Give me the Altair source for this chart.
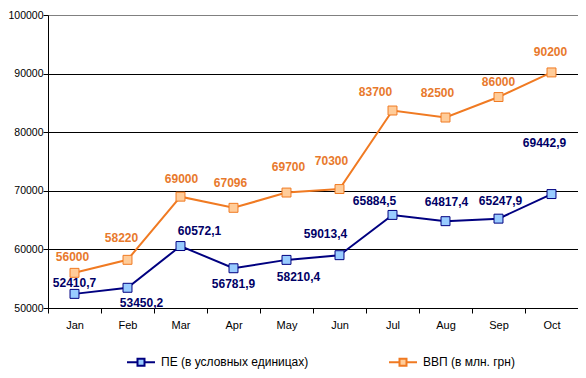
import altair as alt
import pandas as pd

months = ["Jan", "Feb", "Mar", "Apr", "May", "Jun", "Jul", "Aug", "Sep", "Oct"]
pe_values = [52410.7, 53450.2, 60572.1, 56781.9, 58210.4, 59013.4, 65884.5, 64817.4, 65247.9, 69442.9]
vvp_values = [56000, 58220, 69000, 67096, 69700, 70300, 83700, 82500, 86000, 90200]
series_names = ["ПЕ (в условных единицах)", "ВВП (в млн. грн)"]

# label placement offsets (pixels) relative to each marker, as in the original
pe_label_dx = [0, 14, 19, 0, 12, -14, -18, 1, 2, -7]
pe_label_dy = [-11, 15, -15, 16, 17, -21, -14, -19, -18, -51]
vvp_label_dx = [-2, -6, 1, -3, 2, -8, -17, -8, 0, -1]
vvp_label_dy = [-16, -22, -18, -25, -26, -28, -19, -25, -15, -20]

rows = []
for i, m in enumerate(months):
    rows.append({"month": m, "series": series_names[0], "value": pe_values[i],
                 "label": f"{pe_values[i]:.1f}".replace(".", ",")})
for i, m in enumerate(months):
    rows.append({"month": m, "series": series_names[1], "value": vvp_values[i],
                 "label": str(vvp_values[i])})
df = pd.DataFrame(rows)

FONT = "Liberation Sans"
line_colors = ["#000080", "#F07A22"]
fill_colors = ["#99CCFF", "#FFCC99"]
label_colors = ["#000066", "#E8792C"]

x_enc = alt.X("month:N", sort=months, title=None,
              scale=alt.Scale(paddingInner=0, paddingOuter=0),
              axis=alt.Axis(labelAngle=0, tickBand="extent", tickSize=5, tickColor="black",
                            domainColor="black", labelColor="black", labelFont=FONT,
                            labelFontSize=11, labelPadding=6, grid=False))
y_enc = alt.Y("value:Q", title=None,
              scale=alt.Scale(domain=[50000, 100000], nice=False, zero=False),
              axis=alt.Axis(values=[50000, 60000, 70000, 80000, 90000, 100000], format="d",
                            tickSize=5, tickColor="black", domainColor="black",
                            labelColor="black", labelFont=FONT, labelFontSize=10.5,
                            labelPadding=0, grid=True,
                            gridColor=alt.condition("datum.value >= 100000",
                                                    alt.value("#808080"), alt.value("black")),
                            gridOpacity=1, gridWidth=1))

stroke_scale = alt.Scale(domain=series_names, range=line_colors)
fill_scale = alt.Scale(domain=series_names, range=fill_colors)

legend = alt.Legend(title=None, orient="none", legendX=85, legendY=339, direction="horizontal",
                    columns=2, columnPadding=76, labelFont=FONT, labelFontSize=12,
                    labelColor="black", symbolType="M-2,0H-0.5M0.5,0H2M-0.5,-0.5H0.5V0.5H-0.5Z",
                    symbolSize=196, symbolStrokeWidth=2, labelOffset=12, symbolOpacity=1)

base = alt.Chart(df).encode(x=x_enc, y=y_enc)

lines = base.mark_line(strokeWidth=2).encode(
    stroke=alt.Stroke("series:N", scale=stroke_scale, legend=legend),
    detail="series:N",
)

points = base.mark_point(shape="square", size=80, filled=False, strokeWidth=1, opacity=1).encode(
    stroke=alt.Stroke("series:N", scale=stroke_scale, legend=legend),
    fill=alt.Fill("series:N", scale=fill_scale, legend=legend),
)

layers = [lines, points]
for s_idx, (name, dxs, dys) in enumerate([(series_names[0], pe_label_dx, pe_label_dy),
                                           (series_names[1], vvp_label_dx, vvp_label_dy)]):
    for i, m in enumerate(months):
        layers.append(
            base.transform_filter(
                (alt.datum.series == name) & (alt.datum.month == m)
            ).mark_text(font=FONT, fontSize=12, fontWeight="bold", baseline="middle",
                        align="center", dx=dxs[i], dy=dys[i],
                        color=label_colors[s_idx]).encode(text="label:N")
        )

chart = alt.layer(*layers).properties(
    width=530, height=293,
    autosize=alt.AutoSizeParams(type="none"),
    padding={"left": 40, "top": 7, "right": 0, "bottom": 62},
).configure_view(stroke="#808080", strokeWidth=1)

chart.save("out.html", embed_options={"renderer": "svg", "actions": False})
